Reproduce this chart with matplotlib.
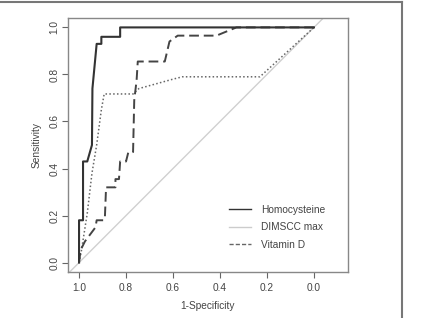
import numpy as np
import matplotlib
matplotlib.use('Agg')
from matplotlib import pyplot as plt
from matplotlib.lines import Line2D

# values (x axis is reversed, 1.0 on the left)
homo_x = [1.0, 1.0, 0.983, 0.983, 0.965, 0.945, 0.943, 0.925, 0.905, 0.905, 0.825, 0.825, 0.0]
homo_y = [0.0, 0.18, 0.18, 0.43, 0.43, 0.50, 0.74, 0.93, 0.93, 0.96, 0.96, 1.0, 1.0]

vitd_x = [1.0, 0.995, 0.99, 0.975, 0.96, 0.945, 0.93, 0.925, 0.895, 0.89, 0.885, 0.845, 0.845,
          0.83, 0.825, 0.80, 0.79, 0.77, 0.765, 0.755, 0.75, 0.635, 0.615, 0.58, 0.415, 0.33, 0.0]
vitd_y = [0.0, 0.04, 0.06, 0.09, 0.11, 0.13, 0.15, 0.18, 0.18, 0.19, 0.32, 0.32, 0.355,
          0.355, 0.43, 0.43, 0.47, 0.47, 0.69, 0.775, 0.855, 0.855, 0.94, 0.965, 0.965, 1.0, 1.0]

dim_x = [1.0, 0.99, 0.965, 0.945, 0.925, 0.905, 0.893, 0.77, 0.745, 0.60, 0.56, 0.23, 0.0]
dim_y = [0.0, 0.05, 0.21, 0.38, 0.50, 0.65, 0.717, 0.717, 0.74, 0.78, 0.79, 0.79, 1.0]

ticks = [1.0, 0.8, 0.6, 0.4, 0.2, 0.0]
tick_labels = ['1.0', '0.8', '0.6', '0.4', '0.2', '0.0']
legend_names = ['Homocysteine', 'DIMSCC max', 'Vitamin D']

txt = '#444444'
plt.rcParams['font.family'] = ['Liberation Sans', 'DejaVu Sans']
plt.rcParams['font.size'] = 7.3

fig = plt.figure(figsize=(4.39, 3.18), dpi=100)
ax = fig.add_axes([68 / 439, 1 - 272 / 318, 280 / 439, 254 / 318])

# reference diagonal
ax.plot([1.2, -0.2], [-0.2, 1.2], color='#d0d0d0', lw=1.0, zorder=1)

ax.plot(dim_x, dim_y, color='#666666', lw=1.1, linestyle=(0, (1, 1.5)), zorder=2)
ax.plot(vitd_x, vitd_y, color='#444444', lw=1.4, linestyle=(0, (5, 2.5)), zorder=3)
ax.plot(homo_x, homo_y, color='#333333', lw=1.5, zorder=4)

ax.set_xlim(1.047, -0.145)
ax.set_ylim(-0.04, 1.04)
ax.set_xticks(ticks)
ax.set_xticklabels(tick_labels, color=txt)
ax.set_yticks(ticks)
ax.set_yticklabels(tick_labels, color=txt, rotation=90, va='center')
ax.tick_params(direction='out', length=4, width=0.8, color='#666666')
ax.tick_params(axis='x', pad=4)
ax.tick_params(axis='y', pad=2)
for s in ax.spines.values():
    s.set_color('#888888')
    s.set_linewidth(1.0)
ax.set_xlabel('1-Specificity', color=txt, labelpad=6)
ax.set_ylabel('Sensitivity', color=txt, labelpad=6)

handles = [Line2D([], [], color='#333333', lw=1.0),
           Line2D([], [], color='#cccccc', lw=1.0),
           Line2D([], [], color='#666666', lw=1.0, linestyle=(0, (3, 1.5)))]
ax.legend(handles, legend_names, loc='upper left', bbox_to_anchor=(0.575, 0.265),
          frameon=False, handlelength=2.2, handletextpad=1.0, labelspacing=0.75,
          borderpad=0, borderaxespad=0, labelcolor=txt)

# outer frame (top and right edges)
fig.add_artist(Line2D([0, 402 / 439], [1 - 2 / 318, 1 - 2 / 318], color='#777777', lw=1.5))
fig.add_artist(Line2D([402 / 439, 402 / 439], [0, 1 - 2 / 318], color='#777777', lw=1.5))

fig.savefig('out.png', dpi=100)
